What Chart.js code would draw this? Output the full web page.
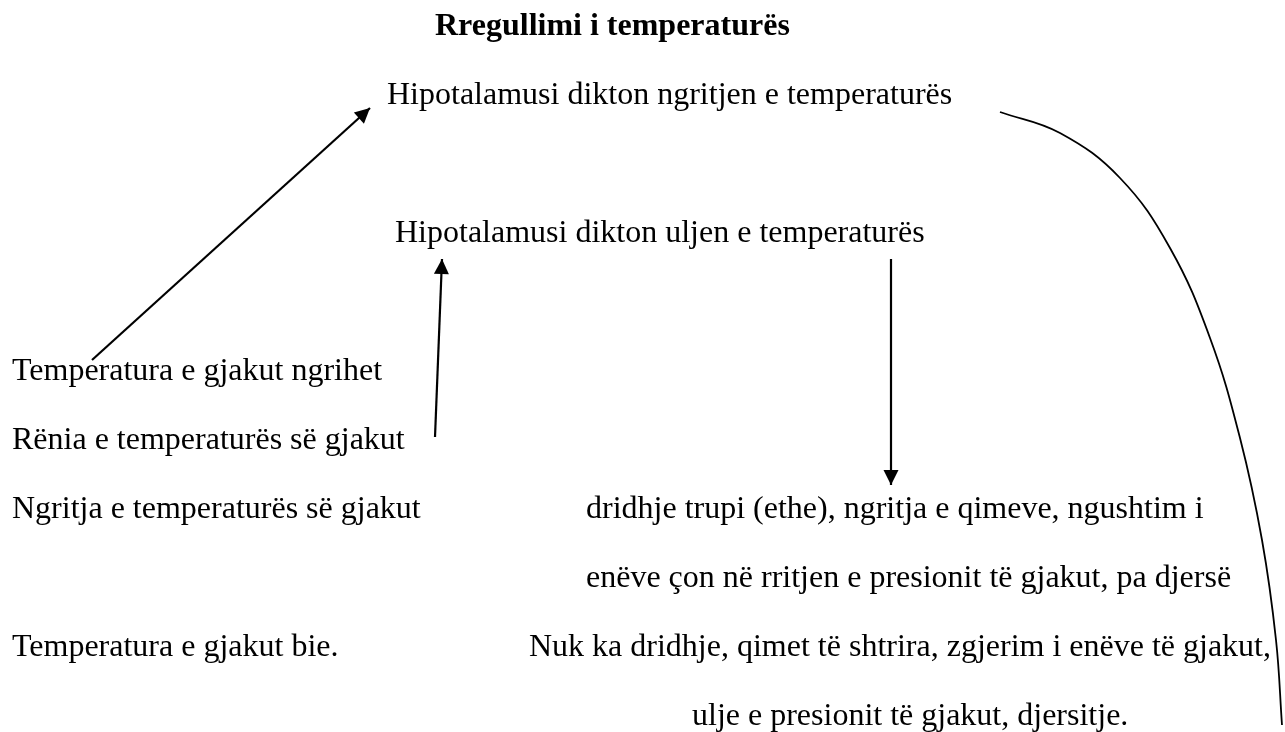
<!DOCTYPE html>
<html lang="sq">
<head>
  <meta charset="UTF-8">
  <title>Rregullimi i temperaturës</title>
  <script src="https://cdn.jsdelivr.net/npm/chart.js"></script>
  <style>
    html, body { margin: 0; padding: 0; background: #fff; }
    .wrap { width: 1285px; height: 732px; position: relative; }
  </style>
</head>
<body>
  <div class="wrap">
    <canvas id="diagram"></canvas>
  </div>

  <script>
    // tekstet e diagramit
    const titleText = 'Rregullimi i temperaturës';
    const titlePos = [435, 35];

    const labels = [
      'Hipotalamusi dikton ngritjen e temperaturës',
      'Hipotalamusi dikton uljen e temperaturës',
      'Temperatura e gjakut ngrihet',
      'Rënia e temperaturës së gjakut',
      'Ngritja e temperaturës së gjakut',
      'dridhje trupi (ethe), ngritja e qimeve, ngushtim i',
      'enëve çon në rritjen e presionit të gjakut, pa djersë',
      'Temperatura e gjakut bie.',
      'Nuk ka dridhje, qimet të shtrira, zgjerim i enëve të gjakut,',
      'ulje e presionit të gjakut, djersitje.'
    ];
    const labelX = [387, 395, 12, 12, 12, 586, 586, 12, 529, 692];
    const labelY = [104, 242, 380, 449, 518, 518, 587, 656, 656, 725];

    // shigjetat: nga -> te
    const arrowFrom = [[92, 360], [435, 437], [891, 259]];
    const arrowTo = [[370, 108], [442, 259], [891, 485]];

    // vija e lakuar djathtas
    const loopX = [1000, 1060, 1120, 1170, 1210, 1240, 1262, 1276, 1282];
    const loopY = [112, 133, 178, 248, 338, 438, 540, 640, 725];

    const datasets = arrowFrom.map((p, i) => ({
      data: [{ x: p[0], y: p[1] }, { x: arrowTo[i][0], y: arrowTo[i][1] }],
      showLine: true,
      borderColor: '#000',
      borderWidth: 2.2,
      pointRadius: 0,
      arrow: true
    }));
    datasets.push({
      data: loopX.map((x, i) => ({ x: x, y: loopY[i] })),
      showLine: true,
      borderColor: '#000',
      borderWidth: 1.8,
      pointRadius: 0,
      tension: 0.4
    });

    const textPlugin = {
      id: 'diagramText',
      afterDatasetsDraw(chart) {
        const ctx = chart.ctx;
        const xs = chart.scales.x, ys = chart.scales.y;
        ctx.save();
        // koka e shigjetave
        chart.data.datasets.forEach((ds, i) => {
          if (!ds.arrow) return;
          const pts = chart.getDatasetMeta(i).data;
          const a = pts[0], b = pts[pts.length - 1];
          const ang = Math.atan2(b.y - a.y, b.x - a.x);
          const len = 15, half = 7.5;
          ctx.fillStyle = '#000';
          ctx.beginPath();
          ctx.moveTo(b.x, b.y);
          ctx.lineTo(b.x - len * Math.cos(ang) + half * Math.sin(ang), b.y - len * Math.sin(ang) - half * Math.cos(ang));
          ctx.lineTo(b.x - len * Math.cos(ang) - half * Math.sin(ang), b.y - len * Math.sin(ang) + half * Math.cos(ang));
          ctx.closePath();
          ctx.fill();
        });
        ctx.fillStyle = '#000';
        ctx.textBaseline = 'alphabetic';
        ctx.textAlign = 'left';
        ctx.font = 'bold 32px "Liberation Serif", "Times New Roman", serif';
        ctx.fillText(titleText, xs.getPixelForValue(titlePos[0]), ys.getPixelForValue(titlePos[1]));
        ctx.font = '32px "Liberation Serif", "Times New Roman", serif';
        labels.forEach((t, i) => {
          ctx.fillText(t, xs.getPixelForValue(labelX[i]), ys.getPixelForValue(labelY[i]));
        });
        ctx.restore();
      }
    };

    new Chart(document.getElementById('diagram'), {
      type: 'scatter',
      data: { datasets: datasets },
      options: {
        responsive: true,
        maintainAspectRatio: false,
        animation: false,
        layout: { padding: 0 },
        plugins: { legend: { display: false }, tooltip: { enabled: false } },
        scales: {
          x: { type: 'linear', min: 0, max: 1285, display: false },
          y: { type: 'linear', min: 0, max: 732, reverse: true, display: false }
        }
      },
      plugins: [textPlugin]
    });
  </script>
</body>
</html>
